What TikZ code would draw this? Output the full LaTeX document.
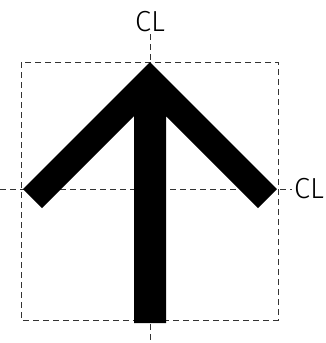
\documentclass[tikz,border=0pt]{standalone}
\usepackage{fontspec}
\setmainfont{Fira Sans Light}
\usetikzlibrary{positioning}
\begin{document}
\begin{tikzpicture}[x=1pt, y=-1pt,
  guide/.style={black!80, line width=0.8pt, dash pattern=on 6pt off 4pt},
  cl/.style={inner sep=2pt, font=\fontsize{29}{34}\selectfont}]
  \useasboundingbox (0,0) rectangle (325,343);
  % frame
  \draw[guide] (21,62) rectangle (278,320);
  % centre lines
  \node[cl, anchor=south] (clTop) at (150,34) {CL};
  \node[cl, anchor=west] (clRight) at (292,189) {CL};
  \coordinate (vEnd) at (150,343);
  \coordinate (hStart) at (0,189);
  \draw[guide] (clTop) -- (vEnd);
  \draw[guide] (hStart) -- (clRight);
  % arrow
  \fill[black] (150,62) -- (277,189) -- (258,208) -- (166,116) -- (166,323)
    -- (134,323) -- (134,116) -- (42,208) -- (23,189) -- cycle;
\end{tikzpicture}
\end{document}
